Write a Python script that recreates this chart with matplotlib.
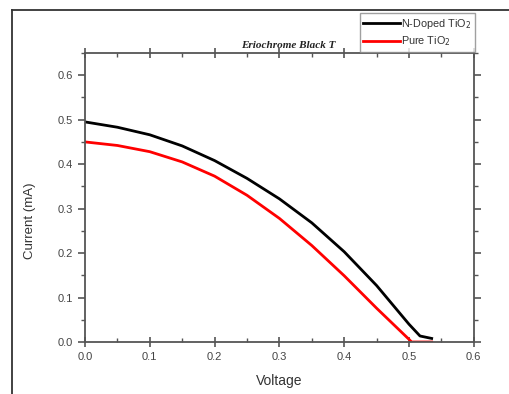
import numpy as np
import matplotlib
matplotlib.use("Agg")
import matplotlib.pyplot as plt
from matplotlib.lines import Line2D
from matplotlib.ticker import MultipleLocator, FormatStrFormatter

plt.rcParams['font.family'] = ['Liberation Sans', 'DejaVu Sans']

# J-V data
voltage_n = [0.0, 0.05, 0.1, 0.15, 0.2, 0.25, 0.3, 0.35, 0.4, 0.45, 0.5, 0.517, 0.535]
current_n = [0.495, 0.483, 0.466, 0.441, 0.408, 0.368, 0.322, 0.268, 0.203, 0.127, 0.040, 0.0135, 0.008]

voltage_p = [0.0, 0.05, 0.1, 0.15, 0.2, 0.25, 0.3, 0.35, 0.4, 0.45, 0.5, 0.504, 0.535]
current_p = [0.450, 0.442, 0.428, 0.405, 0.373, 0.330, 0.278, 0.217, 0.149, 0.076, 0.006, 0.0, 0.0]

fig = plt.figure(figsize=(5.10, 3.94), dpi=100)
ax = fig.add_axes([0.1667, 0.132, 0.7623, 0.7335])

ax.plot(voltage_n, current_n, color='black', lw=2.0, label='N-Doped TiO$_2$')
ax.plot(voltage_p, current_p, color='#ff0000', lw=2.0, label='Pure TiO$_2$')

ax.set_xlim(0, 0.6)
ax.set_ylim(0, 0.65)
ax.xaxis.set_major_locator(MultipleLocator(0.1))
ax.xaxis.set_minor_locator(MultipleLocator(0.05))
ax.yaxis.set_major_locator(MultipleLocator(0.1))
ax.yaxis.set_minor_locator(MultipleLocator(0.05))
ax.xaxis.set_major_formatter(FormatStrFormatter('%.1f'))
ax.yaxis.set_major_formatter(FormatStrFormatter('%.1f'))

gray = '#555555'
for s in ax.spines.values():
    s.set_color(gray)
    s.set_linewidth(1.3)

ax.tick_params(axis='y', which='both', direction='out', left=True, right=True,
               colors=gray, labelcolor='#444444', labelsize=8)
ax.tick_params(axis='y', which='major', length=5, width=1.2)
ax.tick_params(axis='y', which='minor', length=3, width=1.0)
ax.tick_params(axis='x', which='major', direction='inout', length=7, width=1.2,
               top=True, colors=gray, labelcolor='#444444', labelsize=8)
ax.tick_params(axis='x', which='minor', direction='in', length=3, width=1.0, top=True, colors=gray)

ax.set_xlabel('Voltage', fontsize=10, color='#333333', labelpad=9)
ax.set_ylabel('Current (mA)', fontsize=9.5, color='#333333')
ax.yaxis.set_label_coords(-0.125, 0.42)

fig.text(0.566, 0.885, 'Eriochrome Black T', fontsize=8, fontweight='bold',
         fontstyle='italic', family=['Liberation Serif', 'DejaVu Serif'],
         ha='center', va='center', color='#222222')

leg = ax.legend(loc='lower right', bbox_to_anchor=(0.932, 0.868), bbox_transform=fig.transFigure,
                fontsize=7.8, frameon=True, fancybox=False, handlelength=3.4,
                borderpad=0.35, labelspacing=0.3, handletextpad=0.1, borderaxespad=0)
leg.get_frame().set_edgecolor('#888888')
leg.get_frame().set_linewidth(1.0)
for t in leg.get_texts():
    t.set_color('#333333')

# outer frame around the figure
fig.add_artist(Line2D([12 / 510, 1.0], [1 - 10 / 394, 1 - 10 / 394], color='#333333', lw=1.3))
fig.add_artist(Line2D([12 / 510, 12 / 510], [0.0, 1 - 10 / 394], color='#333333', lw=1.3))

fig.savefig('out.png', dpi=100)
